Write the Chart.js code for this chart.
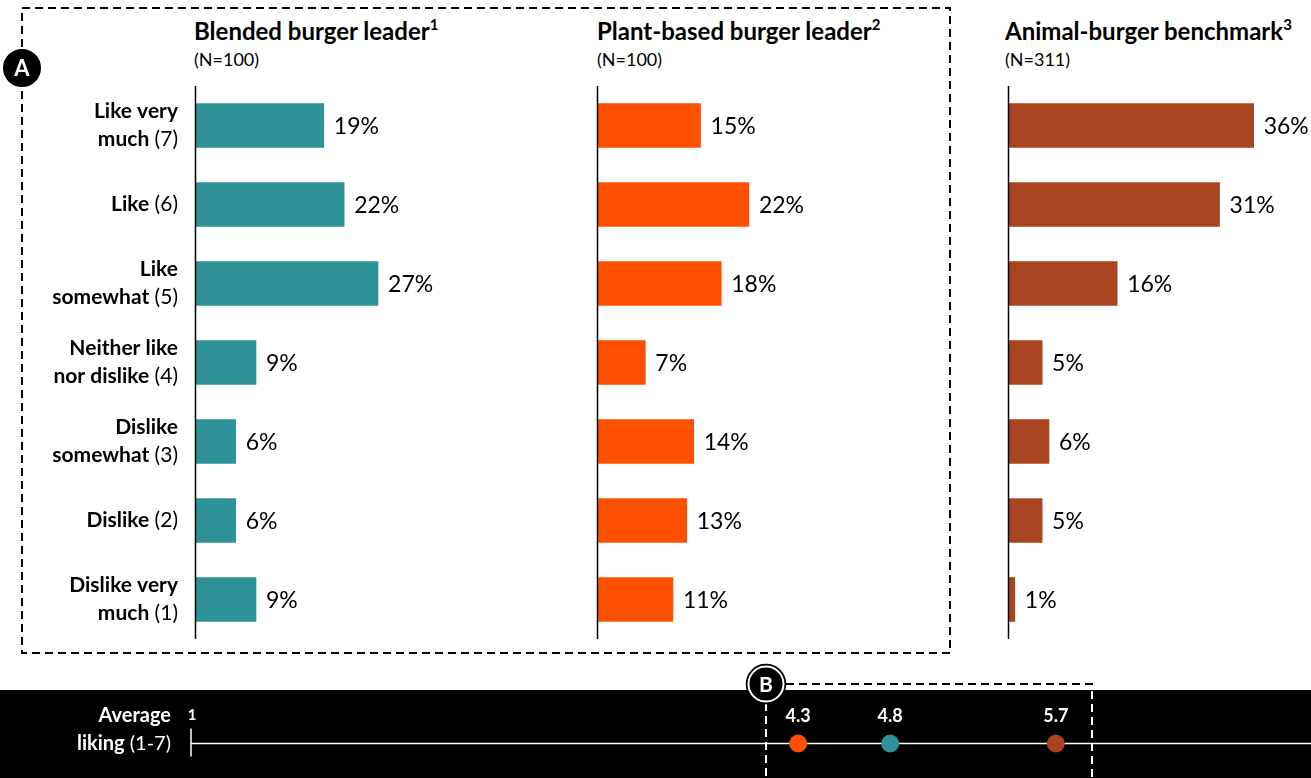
<!DOCTYPE html>
<html>
<head>
<meta charset="utf-8">
<script src="https://cdn.jsdelivr.net/npm/chart.js@4.4.0/dist/chart.umd.min.js"></script>
<style>
  body { margin: 0; width: 1311px; height: 778px; position: relative; overflow: hidden; background: #fff; font-family: Lato, "Noto Sans", sans-serif; }
  canvas { position: absolute; }
  .title { position: absolute; top: 18px; font-size: 24px; line-height: 1; font-weight: bold; white-space: nowrap; color: #000; }
  .title sup { font-size: 15px; position: relative; top: -1px; }
  .n { position: absolute; top: 50px; font-size: 18px; line-height: 1; white-space: nowrap; color: #000; }
  svg { position: absolute; left: 0; top: 0; pointer-events: none; }
</style>
</head>
<body>
<div class="title" style="left:194px">Blended burger leader<sup>1</sup></div>
<div class="n" style="left:194px">(N=100)</div>
<div class="title" style="left:597px">Plant-based burger leader<sup>2</sup></div>
<div class="n" style="left:597px">(N=100)</div>
<div class="title" style="left:1005px">Animal-burger benchmark<sup>3</sup></div>
<div class="n" style="left:1005px">(N=311)</div>

<canvas id="blended" width="496" height="553" style="left:0;top:86px"></canvas>
<canvas id="plant" width="303" height="553" style="left:595px;top:86px"></canvas>
<canvas id="animal" width="305" height="553" style="left:1006px;top:86px"></canvas>
<canvas id="average" width="1311" height="88" style="left:0;top:690px;background:#000"></canvas>

<svg width="1311" height="778">
  <rect x="22" y="8" width="928" height="645" fill="none" stroke="#000" stroke-width="2" stroke-dasharray="8 5"/>
  <circle cx="22" cy="68" r="20" fill="#000" stroke="#fff" stroke-width="2"/>
  <text x="22" y="76" text-anchor="middle" fill="#fff" font-family="Lato" font-weight="bold" font-size="22">A</text>
  <path d="M786 684 H1092 V690" fill="none" stroke="#000" stroke-width="2" stroke-dasharray="8 5"/>
  <path d="M1092 691 V778" fill="none" stroke="#fff" stroke-width="2" stroke-dasharray="8 5"/>
  <path d="M766 703 V778" fill="none" stroke="#fff" stroke-width="2" stroke-dasharray="8 5"/>
  <circle cx="766" cy="684" r="19.5" fill="#000" stroke="#000" stroke-width="1.5"/>
  <circle cx="766" cy="684" r="17.5" fill="#000" stroke="#fff" stroke-width="2"/>
  <text x="766" y="692" text-anchor="middle" fill="#fff" font-family="Lato" font-weight="bold" font-size="21">B</text>
</svg>

<script>
// Liking scale, top to bottom
const categoryLines = [['Like very', 'much'], ['Like'], ['Like', 'somewhat'], ['Neither like', 'nor dislike'], ['Dislike', 'somewhat'], ['Dislike'], ['Dislike very', 'much']];
const scores = [7, 6, 5, 4, 3, 2, 1];

// Share of respondents (%)
const blendedValues = [19, 22, 27, 9, 6, 6, 9];
const plantValues = [15, 22, 18, 7, 14, 13, 11];
const animalValues = [36, 31, 16, 5, 6, 5, 1];

// Average liking (1-7)
const averageProducts = ['Plant-based burger leader', 'Blended burger leader', 'Animal-burger benchmark'];
const averageValues = [4.3, 4.8, 5.7];

const TEAL = '#2E9399';
const ORANGE = '#FF5000';
const BROWN = '#A8441F';
const FONT = 'Lato, "Noto Sans", sans-serif';

const axisLine = {
    id: 'axisLine',
    afterDatasetsDraw(chart) {
        const { ctx, chartArea } = chart;
        ctx.save();
        ctx.strokeStyle = '#000';
        ctx.lineWidth = 1.5;
        ctx.beginPath();
        ctx.moveTo(chartArea.left + 0.5, chartArea.top);
        ctx.lineTo(chartArea.left + 0.5, chartArea.bottom);
        ctx.stroke();
        ctx.restore();
    }
};

const barLabels = {
    id: 'barLabels',
    afterDatasetsDraw(chart) {
        const ctx = chart.ctx;
        const meta = chart.getDatasetMeta(0);
        const values = chart.data.datasets[0].data;
        ctx.save();
        ctx.fillStyle = '#000';
        ctx.font = '23px ' + FONT;
        ctx.textBaseline = 'middle';
        meta.data.forEach((bar, i) => {
            ctx.fillText(values[i] + '%', bar.x + 10, bar.y + 1);
        });
        ctx.restore();
    }
};

// Category names drawn left of the first panel: bold words, normal score
const categoryLabels = {
    id: 'categoryLabels',
    afterDraw(chart) {
        const ctx = chart.ctx;
        const yScale = chart.scales.y;
        const right = chart.chartArea.left - 17;
        ctx.save();
        ctx.fillStyle = '#000';
        ctx.textBaseline = 'middle';
        categoryLines.forEach((lines, i) => {
            const yc = yScale.getPixelForValue(i);
            const lh = 28;
            const y0 = yc - (lines.length - 1) * lh / 2;
            lines.forEach((line, j) => {
                const y = y0 + j * lh;
                ctx.font = 'bold 21px ' + FONT;
                const boldW = ctx.measureText(line).width;
                if (j === lines.length - 1) {
                    const score = ' (' + scores[i] + ')';
                    ctx.font = '21px ' + FONT;
                    const scoreW = ctx.measureText(score).width;
                    ctx.fillText(score, right - scoreW, y);
                    ctx.font = 'bold 21px ' + FONT;
                    ctx.fillText(line, right - scoreW - boldW, y);
                } else {
                    ctx.fillText(line, right - boldW, y);
                }
            });
        });
        ctx.restore();
    }
};

function makeBars(id, values, color, padLeft, xMax, withCategories) {
    const plugins = [axisLine, barLabels];
    if (withCategories) plugins.push(categoryLabels);
    return new Chart(document.getElementById(id), {
        type: 'bar',
        data: {
            labels: categoryLines.map(l => l.join(' ')),
            datasets: [{
                data: values,
                backgroundColor: color,
                barThickness: 44
            }]
        },
        options: {
            indexAxis: 'y',
            responsive: false,
            animation: false,
            layout: { padding: { left: padLeft, right: 0, top: 0, bottom: 0 } },
            scales: {
                x: { display: false, min: 0, max: xMax },
                y: { display: false }
            },
            plugins: { legend: { display: false }, tooltip: { enabled: false } }
        },
        plugins: plugins
    });
}

makeBars('blended', blendedValues, TEAL, 195, 44.4, true);
makeBars('plant', plantValues, ORANGE, 2, 43.6, false);
makeBars('animal', animalValues, BROWN, 2, 44.4, false);

// Bottom strip: average liking on a 1-7 line
const averageStrip = {
    id: 'averageStrip',
    beforeDatasetsDraw(chart) {
        const { ctx, scales } = chart;
        const y = scales.y.getPixelForValue(0);
        const x1 = scales.x.getPixelForValue(1);
        ctx.save();
        ctx.strokeStyle = '#fff';
        ctx.lineWidth = 1.5;
        ctx.beginPath();
        ctx.moveTo(x1, y);
        ctx.lineTo(chart.width, y);
        ctx.moveTo(x1, y - 15);
        ctx.lineTo(x1, y + 13);
        ctx.stroke();
        ctx.fillStyle = '#fff';
        ctx.font = 'bold 15px ' + FONT;
        ctx.textAlign = 'center';
        ctx.textBaseline = 'alphabetic';
        ctx.fillText('1', x1 + 1, y - 24);
        ctx.restore();
    },
    afterDatasetsDraw(chart) {
        const { ctx, scales } = chart;
        const y = scales.y.getPixelForValue(0);
        const meta = chart.getDatasetMeta(0);
        ctx.save();
        ctx.fillStyle = '#fff';
        ctx.textBaseline = 'middle';
        ctx.font = 'bold 18px ' + FONT;
        ctx.textAlign = 'center';
        meta.data.forEach((pt, i) => {
            ctx.fillText(averageValues[i].toFixed(1), pt.x, pt.y - 27);
        });
        ctx.textAlign = 'left';
        ctx.font = 'bold 20px ' + FONT;
        const right = 171;
        let w = ctx.measureText('Average').width;
        ctx.fillText('Average', right - w, y - 28);
        ctx.font = '20px ' + FONT;
        const rest = ' (1-7)';
        const restW = ctx.measureText(rest).width;
        ctx.fillText(rest, right - restW, y);
        ctx.font = 'bold 20px ' + FONT;
        w = ctx.measureText('liking').width;
        ctx.fillText('liking', right - restW - w, y);
        ctx.restore();
    }
};

new Chart(document.getElementById('average'), {
    type: 'scatter',
    data: {
        datasets: [{
            data: averageValues.map(v => ({ x: v, y: 'avg' })),
            pointBackgroundColor: [ORANGE, TEAL, BROWN],
            pointBorderWidth: 0,
            pointRadius: 9
        }]
    },
    options: {
        responsive: false,
        animation: false,
        layout: { padding: { left: 191, right: 16, top: 28, bottom: 0 } },
        scales: {
            x: { type: 'linear', display: false, min: 1, max: 7 },
            y: { type: 'category', labels: ['avg'], display: false, offset: true }
        },
        plugins: { legend: { display: false }, tooltip: { enabled: false } }
    },
    plugins: [averageStrip]
});
</script>
</body>
</html>
